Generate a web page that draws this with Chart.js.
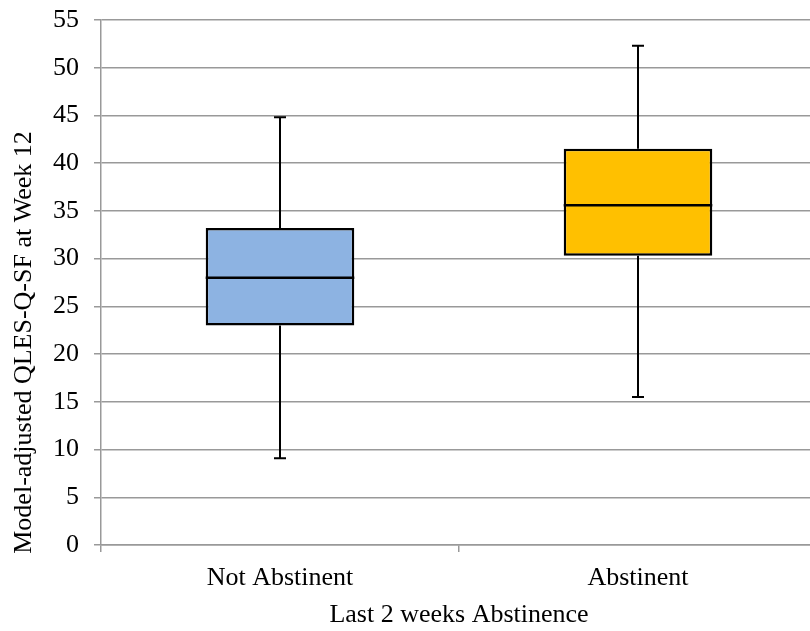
<!DOCTYPE html>
<html>
<head>
<meta charset="utf-8">
<script src="https://cdn.jsdelivr.net/npm/chart.js@4/dist/chart.umd.min.js"></script>
<style>
html,body{margin:0;padding:0;background:#fff;overflow:hidden;}
canvas{display:block;}
</style>
</head>
<body>
<canvas id="c" width="820" height="631"></canvas>
<script>
const categories = ['Not Abstinent', 'Abstinent'];
const mins    = [9.1, 15.5];
const q1s     = [23.0, 30.3];
const medians = [28.0, 35.6];
const q3s     = [33.2, 41.5];
const maxs    = [44.8, 52.3];
const boxColors = ['#8DB3E2', '#FFC000'];
const yTicks = [0,5,10,15,20,25,30,35,40,45,50,55];
const yTitle = 'Model-adjusted QLES-Q-SF at Week 12';
const xTitle = 'Last 2 weeks Abstinence';

const FONT = {family: '"Liberation Serif", "Times New Roman", serif', size: 26};

const whiskerPlugin = {
  id: 'whiskers',
  afterDatasetsDraw(chart) {
    const ctx = chart.ctx;
    const meta = chart.getDatasetMeta(0);
    const y = chart.scales.y;
    ctx.save();
    ctx.strokeStyle = '#000';
    ctx.lineWidth = 2;
    meta.data.forEach((bar, i) => {
      const cx = bar.x;
      const half = bar.width / 2;
      const yMax = y.getPixelForValue(maxs[i]);
      const yMin = y.getPixelForValue(mins[i]);
      const yQ1 = y.getPixelForValue(q1s[i]);
      const yQ3 = y.getPixelForValue(q3s[i]);
      const yMed = y.getPixelForValue(medians[i]);
      ctx.beginPath();
      ctx.moveTo(cx, yQ3); ctx.lineTo(cx, yMax);
      ctx.moveTo(cx - 6, yMax); ctx.lineTo(cx + 6, yMax);
      ctx.moveTo(cx, yQ1); ctx.lineTo(cx, yMin);
      ctx.moveTo(cx - 6, yMin); ctx.lineTo(cx + 6, yMin);
      ctx.stroke();
      ctx.beginPath();
      ctx.lineWidth = 2.5;
      ctx.moveTo(cx - half, yMed); ctx.lineTo(cx + half, yMed);
      ctx.stroke();
      ctx.lineWidth = 2;
    });
    // y-axis title, placed like the original (shifted below the plot centre)
    const area = chart.chartArea;
    ctx.save();
    ctx.fillStyle = '#000';
    ctx.font = FONT.size + 'px ' + FONT.family;
    ctx.textAlign = 'center';
    ctx.textBaseline = 'middle';
    ctx.translate(24, (area.top + area.bottom) / 2 + 60);
    ctx.rotate(-Math.PI / 2);
    ctx.fillText(yTitle, 0, 0);
    ctx.restore();
    ctx.restore();
  }
};

new Chart(document.getElementById('c'), {
  type: 'bar',
  data: {
    labels: categories,
    datasets: [{
      data: categories.map((_, i) => [q1s[i], q3s[i]]),
      backgroundColor: boxColors,
      borderColor: '#000',
      borderWidth: 2.5,
      borderSkipped: false,
      categoryPercentage: 1.0,
      barPercentage: 0.415
    }]
  },
  options: {
    responsive: false,
    animation: false,
    layout: {padding: {top: 20, right: 3, left: 0, bottom: 0}},
    plugins: {legend: {display: false}, tooltip: {enabled: false}},
    scales: {
      x: {
        offset: true,
        grid: {offset: true, drawOnChartArea: false, drawTicks: true, tickLength: 7, color: '#999', lineWidth: 1.5},
        border: {display: true, color: '#999', width: 1.5},
        ticks: {color: '#000', font: FONT, padding: 11},
        title: {display: true, text: xTitle, color: '#000', font: FONT, padding: {top: 0, bottom: 0}},
        afterFit(s) { s.height = 86; s.paddingLeft = 0; s.paddingRight = 0; }
      },
      y: {
        min: 0, max: 55,
        afterBuildTicks(s) { s.ticks = yTicks.map(v => ({value: v})); },
        grid: {color: '#999', lineWidth: 1.5, drawTicks: true, tickLength: 7},
        border: {display: true, color: '#999', width: 1.5},
        ticks: {color: '#000', font: FONT, padding: 15},
        title: {display: false},
        afterFit(s) { s.width = 101; s.paddingTop = 0; s.paddingBottom = 0; }
      }
    }
  },
  plugins: [whiskerPlugin]
});
</script>
</body>
</html>
